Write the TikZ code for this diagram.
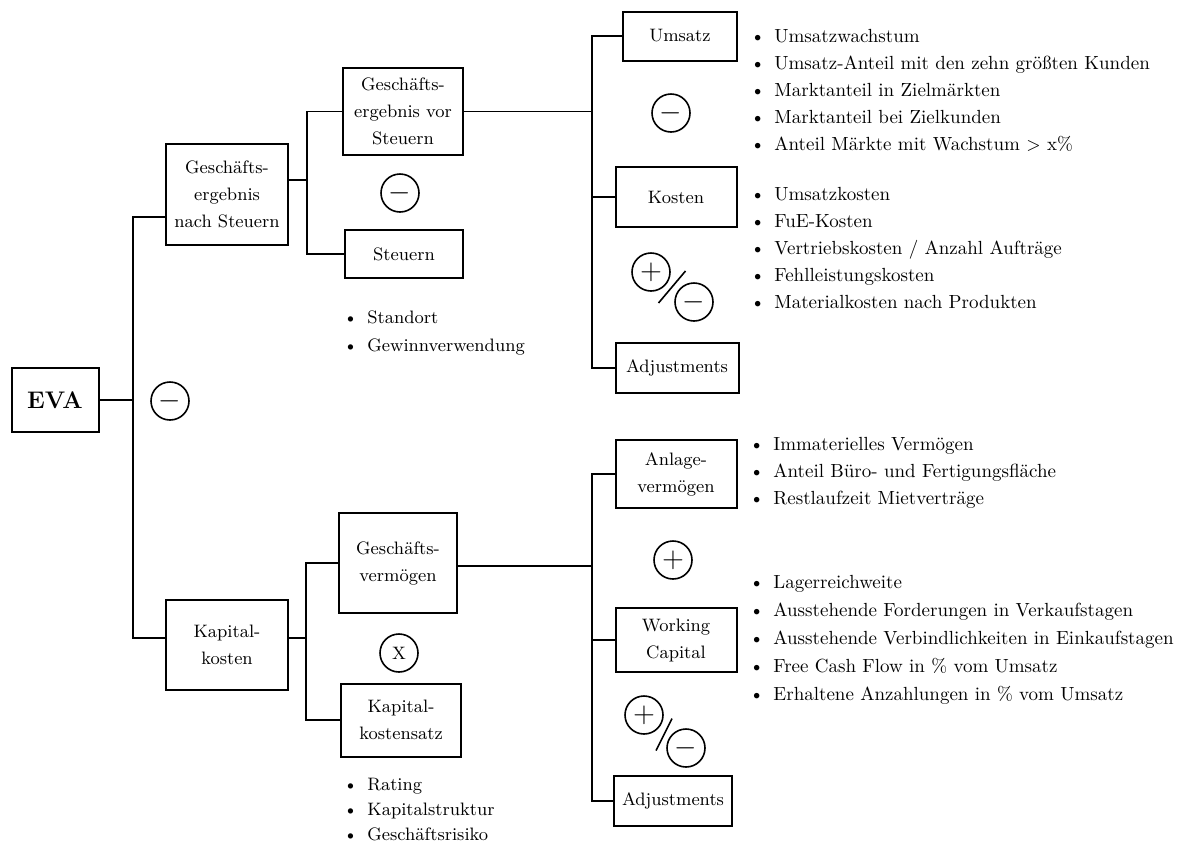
\documentclass[tikz,border=0pt]{standalone}
\usepackage{tikz}
\usetikzlibrary{positioning,calc}

\newcommand{\blt}{\makebox[12pt][l]{\textbullet}}

\begin{document}
\begin{tikzpicture}[x=0.5pt,y=-0.5pt,
  kbox/.style={draw,line width=1pt,align=center,inner sep=2pt,font={\small\baselineskip=13.5pt}},
  op/.style={draw,circle,line width=0.8pt,minimum size=19pt,inner sep=0pt,font=\Large},
  plist/.style={anchor=north west,align=left,inner sep=0pt,font={\fontsize{9.5}{13.5}\selectfont}},
  link/.style={line width=0.8pt}]
  \useasboundingbox (0,0) rectangle (1181,847);

  \node[kbox,minimum width=43.5pt,minimum height=32pt,font=\large\bfseries] (eva) at (55,400) {EVA};
  \node[kbox,minimum width=61pt,minimum height=50.5pt] (gnach) at (227,194) {Geschäfts-\\ergebnis\\nach Steuern};
  \node[kbox,minimum width=60pt,minimum height=43.5pt] (gvor) at (403,111.5) {Geschäfts-\\ergebnis vor\\Steuern};
  \node[kbox,minimum width=59pt,minimum height=24pt] (steuern) at (404,254) {Steuern};
  \node[kbox,minimum width=57pt,minimum height=24.5pt] (umsatz) at (680,36) {Umsatz};
  \node[kbox,minimum width=60.5pt,minimum height=30pt] (kosten) at (676,197) {Kosten};
  \node[kbox,minimum width=61.5pt,minimum height=25pt] (adja) at (677,368) {Adjustments};
  \node[kbox,minimum width=61pt,minimum height=45pt] (kapk) at (227,645) {Kapital-\\kosten};
  \node[kbox,minimum width=59pt,minimum height=50pt] (gverm) at (398,563) {Geschäfts-\\vermögen};
  \node[kbox,minimum width=60pt,minimum height=36.5pt] (ksatz) at (401,720) {Kapital-\\kostensatz};
  \node[kbox,minimum width=60.5pt,minimum height=34pt] (anlage) at (676,474) {Anlage-\\vermögen};
  \node[kbox,minimum width=60.5pt,minimum height=32pt] (wcap) at (676,640) {Working\\Capital};
  \node[kbox,minimum width=59pt,minimum height=25pt] (adjb) at (673,801) {Adjustments};

  \node[op] (m0) at (170,401) {$-$};
  \node[op] (m1) at (400,193) {$-$};
  \node[op] (m2) at (671,113) {$-$};
  \node[op] (p1) at (651,272) {$+$};
  \node[op] (m3) at (694,302) {$-$};
  \node[op,font=\small] (x1) at (399,653) {X};
  \node[op] (p2) at (673,560) {$+$};
  \node[op] (p3) at (644,715) {$+$};
  \node[op] (m4) at (686,748) {$-$};
  \draw[link] ($(p1)!0.5!(m3)+(-14,16)$) -- ($(p1)!0.5!(m3)+(13,-16)$);
  \draw[link] ($(p3)!0.5!(m4)+(-9,19)$) -- ($(p3)!0.5!(m4)+(7,-13)$);

  \coordinate (j1) at (133,400);
  \coordinate (j2) at (307,180);
  \coordinate (j3) at (592,111.5);
  \coordinate (j4) at (306,638);
  \coordinate (j5) at (592,566);
  \draw[link] (eva) -- (j1);
  \draw[link] ([yshift=-11.5pt]gnach.west) -| (j1) |- ([yshift=3.5pt]kapk.west);
  \draw[link] ([yshift=7pt]gnach.east) -- (j2);
  \draw[link] (gvor.west) -| (j2) |- (steuern.west);
  \draw[link] (gvor.east) -- (j3);
  \draw[link] (umsatz.west) -| (j3) |- (adja.west);
  \draw[link] (kosten.west) -- (kosten.west -| j3);
  \draw[link] ([yshift=3.5pt]kapk.east) -- (j4);
  \draw[link] (gverm.west) -| (j4) |- (ksatz.west);
  \draw[link] ([yshift=-1.5pt]gverm.east) -- (j5);
  \draw[link] (anlage.west) -| (j5) |- (adjb.west);
  \draw[link] (wcap.west) -- (wcap.west -| j5);

  \node[plist] (lumsatz) at (750,29) {\blt Umsatzwachstum\\
    \blt Umsatz-Anteil mit den zehn größten Kunden\\
    \blt Marktanteil in Zielmärkten\\
    \blt Marktanteil bei Zielkunden\\
    \blt Anteil Märkte mit Wachstum $>$ x\%};
  \node[plist] (lkosten) at (750,187) {\blt Umsatzkosten\\
    \blt FuE-Kosten\\
    \blt Vertriebskosten / Anzahl Aufträge\\
    \blt Fehlleistungskosten\\
    \blt Materialkosten nach Produkten};
  \node[plist,font={\small\baselineskip=14pt}] (lsteuern) at (343,310) {\blt Standort\\
    \blt Gewinnverwendung};
  \node[plist] (lanlage) at (749,437) {\blt Immaterielles Vermögen\\
    \blt Anteil Büro- und Fertigungsfläche\\
    \blt Restlaufzeit Mietverträge};
  \node[plist,font={\fontsize{9.5}{14}\selectfont}] (lwcap) at (749,575) {\blt Lagerreichweite\\
    \blt Ausstehende Forderungen in Verkaufstagen\\
    \blt Ausstehende Verbindlichkeiten in Einkaufstagen\\
    \blt Free Cash Flow in \% vom Umsatz\\
    \blt Erhaltene Anzahlungen in \% vom Umsatz};
  \node[plist,font={\small\baselineskip=12.5pt}] (lksatz) at (343,778) {\blt Rating\\
    \blt Kapitalstruktur\\
    \blt Geschäftsrisiko};
\end{tikzpicture}
\end{document}
